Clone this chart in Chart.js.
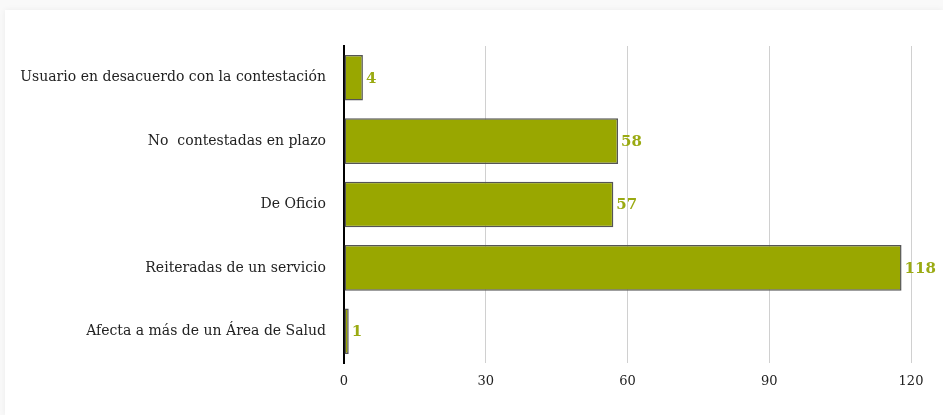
<!DOCTYPE html>
<html>
<head>
<meta charset="utf-8">
<script src="https://cdn.jsdelivr.net/npm/chart.js@4"></script>
<style>
  html, body { margin: 0; padding: 0; background: #f9f9f9; }
  #card { position: absolute; left: 5px; top: 10px; width: 938px; height: 405px; background: #fff; box-shadow: 0 0 6px rgba(0,0,0,0.06); }
  #wrap { position: absolute; left: 0; top: 0; width: 943px; height: 415px; }
</style>
</head>
<body>
<div id="card"></div>
<div id="wrap"><canvas id="myChart" width="943" height="415"></canvas></div>
<script>
const categories = [
  "Usuario en desacuerdo con la contestación",
  "No  contestadas en plazo",
  "De Oficio",
  "Reiteradas de un servicio",
  "Afecta a más de un Área de Salud"
];
const values = [4, 58, 57, 118, 1];
const xTicks = [0, 30, 60, 90, 120];

const serif = "'DejaVu Serif', 'Liberation Serif', serif";

// draws the number next to each bar
const valueLabels = {
  id: 'valueLabels',
  afterDatasetsDraw(chart) {
    const ctx = chart.ctx;
    const meta = chart.getDatasetMeta(0);
    ctx.save();
    ctx.font = "bold 15px " + serif;
    ctx.fillStyle = "#9aaa12";
    ctx.textBaseline = "middle";
    ctx.textAlign = "left";
    meta.data.forEach((bar, i) => {
      ctx.fillText(String(values[i]), bar.x + 3, bar.y + 1);
    });
    ctx.restore();
  }
};

new Chart("myChart", {
  type: "bar",
  data: {
    labels: categories,
    datasets: [{
      data: values,
      backgroundColor: "#99a700",
      borderColor: "#555555",
      borderWidth: 1.5,
      borderSkipped: false,
      barPercentage: 0.72,
      categoryPercentage: 1
    }]
  },
  options: {
    indexAxis: "y",
    responsive: false,
    animation: false,
    devicePixelRatio: 1,
    layout: { padding: { left: 0, right: 32, top: 46, bottom: 0 } },
    plugins: { legend: { display: false }, tooltip: { enabled: false } },
    scales: {
      x: {
        min: 0, max: 120,
        afterBuildTicks: s => { s.ticks = xTicks.map(v => ({ value: v })); },
        afterFit: s => { s.height = 52; },
        grid: { color: "#d0d0d0", lineWidth: 1, drawTicks: false },
        border: { display: false },
        ticks: { color: "#222", padding: 11, font: { family: serif, size: 13 } }
      },
      y: {
        afterFit: s => { s.width = 344; },
        grid: { display: false, drawTicks: false },
        border: { color: "#000", width: 2 },
        ticks: { color: "#222", padding: 18, font: { family: serif, size: 14 } }
      }
    }
  },
  plugins: [valueLabels]
});
</script>
</body>
</html>
